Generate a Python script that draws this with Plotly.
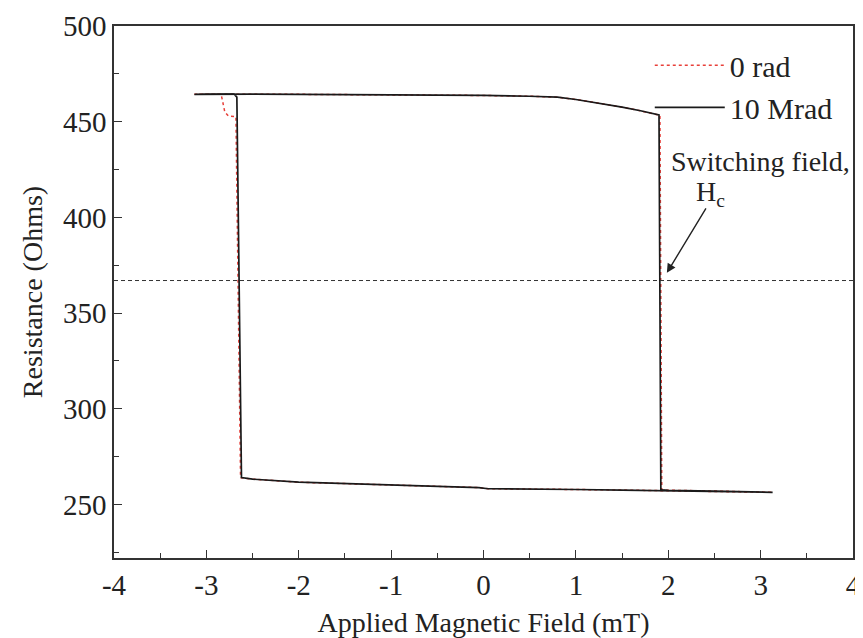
import plotly.graph_objects as go

# 10 Mrad (black solid) hysteresis loop: forward sweep then return sweep
field_10mrad = [-3.13, -3.0, -2.8, -2.7, -2.5, -2.0, -1.5, -1.0, -0.5, 0.0, 0.5, 0.8, 1.0, 1.2, 1.5, 1.7, 1.9, 1.92,
                2.0, 2.5, 3.0, 3.13,
                3.0, 2.5, 2.0, 1.5, 1.0, 0.5, 0.05, -0.05, -0.5, -1.0, -1.3, -1.5, -2.0, -2.5, -2.62, -2.67, -2.7, -3.0, -3.13]
res_10mrad = [464.3, 464.4, 464.5, 464.5, 464.4, 464.3, 464.2, 464.1, 463.9, 463.7, 463.3, 462.8, 461.6, 460.1, 457.6, 455.7, 453.5, 257.6,
              257.4, 257.0, 256.6, 256.3,
              256.6, 257.0, 257.3, 257.5, 257.8, 258.0, 258.2, 258.8, 259.4, 260.0, 260.5, 260.8, 261.6, 263.2, 264.0, 462.8, 464.4, 464.4, 464.3]

# 0 rad (red dotted) hysteresis loop
field_0rad = [-3.13, -3.0, -2.8, -2.7, -2.5, -2.0, -1.5, -1.0, -0.5, 0.0, 0.5, 0.8, 1.0, 1.2, 1.5, 1.7, 1.91, 1.93,
              2.0, 2.5, 3.0, 3.13,
              3.0, 2.5, 2.0, 1.5, 1.0, 0.5, 0.05, -0.05, -0.5, -1.0, -1.3, -1.5, -2.0, -2.5, -2.63, -2.68, -2.76, -2.8, -2.84, -3.0, -3.13]
res_0rad = [464.3, 464.4, 464.5, 464.5, 464.4, 464.3, 464.2, 464.1, 463.9, 463.7, 463.3, 462.8, 461.6, 460.1, 457.6, 455.7, 453.3, 257.6,
            257.4, 257.0, 256.6, 256.3,
            256.6, 257.0, 257.3, 257.5, 257.8, 258.0, 258.2, 258.8, 259.4, 260.0, 260.5, 260.8, 261.6, 263.2, 264.0, 452.6, 452.9, 455.0, 464.3, 464.4, 464.3]

switching_level = 367
x_ticks = [-4, -3, -2, -1, 0, 1, 2, 3, 4]
y_ticks = [250, 300, 350, 400, 450, 500]

FONT = "Liberation Serif"
TXT = "#222222"

fig = go.Figure()
fig.add_trace(go.Scatter(x=field_0rad, y=res_0rad, mode="lines", name="0 rad", legendgroup="a",
                         line=dict(color="#e8403a", width=1.5, dash="dot")))
fig.add_trace(go.Scatter(x=field_10mrad, y=res_10mrad, mode="lines", name="10 Mrad", legendgroup="b",
                         line=dict(color="#1a1a1a", width=1.7)))

fig.add_shape(type="line", xref="x", yref="y", x0=-4, x1=4, y0=switching_level, y1=switching_level,
              line=dict(color="#333333", width=1, dash="4px,3px"))

fig.add_annotation(x=1.985, y=371, xref="x", yref="y", ax=40, ay=-66, axref="pixel", ayref="pixel",
                   text="", showarrow=True, arrowhead=2, arrowsize=1.3, arrowwidth=1.4, arrowcolor="#222")
fig.add_annotation(x=1.0, y=0.745, xref="paper", yref="paper", xanchor="right", yanchor="middle", xshift=-1,
                   text="Switching field,", showarrow=False, font=dict(family=FONT, size=28, color=TXT))
fig.add_annotation(x=2.28, y=0.686, xref="x", yref="paper", xanchor="left", yanchor="middle",
                   text="H<sub>c</sub>", showarrow=False, font=dict(family=FONT, size=28, color=TXT))

axis_common = dict(showline=True, linecolor="#333", linewidth=1.5, mirror=True, ticks="inside",
                   ticklen=8, tickwidth=1.2, tickcolor="#333", showgrid=False, zeroline=False,
                   ticklabeloverflow="allow",
                   tickfont=dict(family=FONT, size=29, color=TXT))

fig.update_xaxes(range=[-4, 4], tickvals=x_ticks, ticktext=[str(v) for v in x_ticks],
                 title=dict(text="Applied Magnetic Field (mT)", font=dict(family=FONT, size=28, color=TXT), standoff=13),
                 minor=dict(ticks="inside", ticklen=5, dtick=0.5, tickcolor="#333", tickwidth=1.2),
                 **axis_common)
fig.update_yaxes(range=[222, 500], tickvals=y_ticks, ticktext=[str(v) for v in y_ticks],
                 title=dict(text="Resistance (Ohms)", font=dict(family=FONT, size=28, color=TXT), standoff=12),
                 minor=dict(ticks="inside", ticklen=5, dtick=25, tick0=0, tickcolor="#333", tickwidth=1.2),
                 **axis_common)

fig.update_layout(width=855, height=630, margin=dict(l=106, r=2, t=15, b=80),
                  paper_bgcolor="white", plot_bgcolor="white",
                  font=dict(family=FONT, color=TXT),
                  legend=dict(x=0.725, y=0.975, xanchor="left", yanchor="top", bgcolor="rgba(0,0,0,0)",
                              itemwidth=70,
                              font=dict(family=FONT, size=30, color=TXT), tracegroupgap=0))

fig.write_html("out.html")
